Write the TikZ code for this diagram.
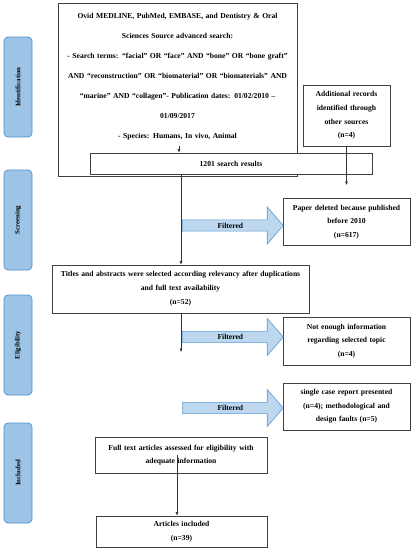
\documentclass[tikz,border=0pt]{standalone}
\usepackage{fontspec}
\setmainfont{Liberation Serif}
\usetikzlibrary{arrows.meta,shapes.arrows}

\definecolor{phasefill}{HTML}{9DC3E6}
\definecolor{phaseedge}{HTML}{4F8FCB}
\definecolor{arrowfill}{HTML}{BDD7EE}
\definecolor{arrowedge}{HTML}{5B9BD5}

\tikzset{
  box/.style={draw=black!75, line width=0.7pt, fill=white, align=center, inner sep=2pt,
    font=\fontsize{7.6}{13.6}\selectfont\bfseries},
  phase/.style={draw=phaseedge, fill=phasefill, line width=0.7pt, rounded corners=4pt,
    rotate=90, minimum width=100pt, minimum height=28pt, inner sep=0pt,
    font=\fontsize{6.8}{8}\selectfont\bfseries},
  filt/.style={single arrow, draw=arrowedge, fill=arrowfill, line width=0.6pt,
    minimum height=101pt, minimum width=37pt, single arrow head extend=9pt,
    single arrow tip angle=98, inner sep=1pt, anchor=tail,
    font=\fontsize{7.6}{9}\selectfont\bfseries},
  link/.style={draw=black!80, line width=0.5pt, -{Latex[length=3.5pt,width=3pt]}}
}

\begin{document}
\begin{tikzpicture}[x=1pt,y=-1pt]
    \useasboundingbox (0,0) rectangle (412,550);

    % phases
    \node[phase] (ident) at (18,87) {Identification};
    \node[phase] (screen) at (18,220) {Screening};
    \node[phase] (elig) at (18,345) {Eligibility};
    \node[phase] (incl) at (18,473) {Included};

    % identification
    \node[box, text width=235pt, minimum height=173pt, font=\fontsize{7.6}{20}\selectfont\bfseries]
      (search) at (177.5,89.5) {Ovid MEDLINE, PubMed, EMBASE, and Dentistry \& Oral\\
      Sciences Source advanced search:\\
      - Search terms: “facial” OR “face” AND “bone” OR “bone graft”\\
      AND “reconstruction” OR “biomaterial” OR “biomaterials” AND\\
      “marine” AND “collagen”- Publication dates: 01/02/2010 –\\
      01/09/2017\\
      - Species: Humans, In vivo, Animal\\[8pt]\mbox{}};
    \node[box, text width=278pt, minimum height=21pt] (results) at (231,163.5) {1201 search results};
    \node[box, text width=83pt, minimum height=61pt] (extra) at (346.5,115.5)
      {Additional records\\identified through\\other sources\\(n=4)};

    % screening
    \node[box, text width=123pt, minimum height=47pt] (deleted) at (346.5,222)
      {Paper deleted because published\\before 2010\\(n=617)};
    \node[filt] (filt1) at (182,225.5) {Filtered};
    \node[box, text width=253pt, minimum height=48pt, font=\fontsize{7.6}{14}\selectfont\bfseries]
      (titles) at (180.5,289)
      {Titles and abstracts were selected according relevancy after duplications\\and full text availability\\(n=52)};

    % eligibility
    \node[box, text width=123pt, minimum height=48pt] (notenough) at (346.5,341)
      {Not enough information\\regarding selected topic\\(n=4)};
    \node[filt] (filt2) at (182,337) {Filtered};
    \node[box, text width=123pt, minimum height=47pt] (faults) at (346.5,406.5)
      {single case report presented\\(n=4); methodological and\\design faults (n=5)};
    \node[filt] (filt3) at (182,408) {Filtered};

    % included
    \node[box, text width=168pt, minimum height=36pt] (fullt) at (181,455)
      {Full text articles assessed for eligibility with\\adequate information};
    \node[box, text width=167pt, minimum height=31pt] (articles) at (181.5,531.5)
      {Articles included\\(n=39)};

    % connectors
    \coordinate (s1) at (179,146);
    \draw[link] (s1) -- (s1 |- results.north);
    \coordinate (e1) at (346.5,185);
    \draw[link] (extra.south) -- (e1);
    \coordinate (spine) at (181,0);
    \draw[link] (results.south -| spine) -- (titles.north -| spine);
    \coordinate (t1) at (181,352);
    \draw[link] (titles.south -| t1) -- (t1);
    \coordinate (f1) at (177,0);
    \draw[link] (fullt.center -| f1) -- (articles.north -| f1);
\end{tikzpicture}
\end{document}
